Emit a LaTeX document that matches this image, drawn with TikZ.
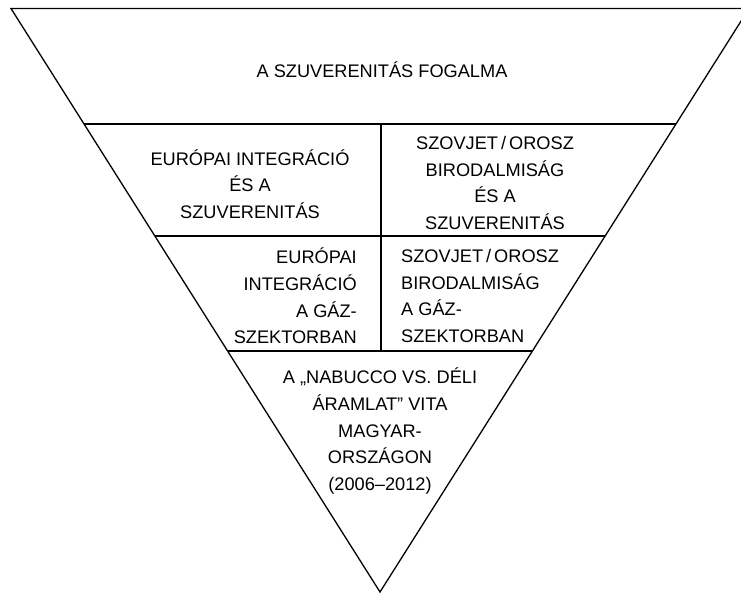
\documentclass[tikz,border=0pt]{standalone}
\usepackage{fontspec}
\setmainfont{Liberation Sans}
\usetikzlibrary{calc}

\begin{document}
\begin{tikzpicture}[x=1pt, y=-1pt,
    lbl/.style={font=\fontsize{18.2}{26.7}\selectfont, inner sep=0pt},
    edge/.style={line width=1.3pt}]
    \useasboundingbox (0,0) rectangle (741,594);

    \coordinate (tl) at (11,8.5);
    \coordinate (tr) at (749,8.5);
    \coordinate (apex) at (380,592);

    \draw[edge, line join=miter] (tl) -- (tr) -- (apex) -- cycle;

    % levels of the funnel
    \coordinate (l1) at ($(tl)!0.198!(apex)$); \coordinate (r1) at ($(tr)!0.198!(apex)$);
    \coordinate (l2) at ($(tl)!0.390!(apex)$); \coordinate (r2) at ($(tr)!0.390!(apex)$);
    \coordinate (l3) at ($(tl)!0.587!(apex)$); \coordinate (r3) at ($(tr)!0.587!(apex)$);
    \coordinate (d1) at (381,124);
    \coordinate (d3) at (381,351);

    \draw[edge] (l1) -- (r1);
    \draw[edge] (l2) -- (r2);
    \draw[edge] (l3) -- (r3);
    \draw[edge] (d1) -- (d3);

    \node[lbl] (fog) at (382,70) {A SZUVERENITÁS FOGALMA};
    \node[lbl, align=center] (euint) at (250,184) {EURÓPAI INTEGRÁCIÓ\\ÉS A\\SZUVERENITÁS};
    \node[lbl, align=center] (szint) at (495,183) {SZOVJET\,/\,OROSZ\\BIRODALMISÁG\\ÉS A\\SZUVERENITÁS};
    \node[lbl, align=right, anchor=east] (eugaz) at (357,296) {EURÓPAI\\INTEGRÁCIÓ\\A GÁZ-\\SZEKTORBAN};
    \node[lbl, align=left, anchor=west] (szgaz) at (401,296) {SZOVJET\,/\,OROSZ\\BIRODALMISÁG\\A GÁZ-\\SZEKTORBAN};
    \node[lbl, align=center] (vita) at (380,431) {A „NABUCCO VS. DÉLI\\ÁRAMLAT” VITA\\MAGYAR-\\ORSZÁGON\\(2006–2012)};

\end{tikzpicture}
\end{document}
